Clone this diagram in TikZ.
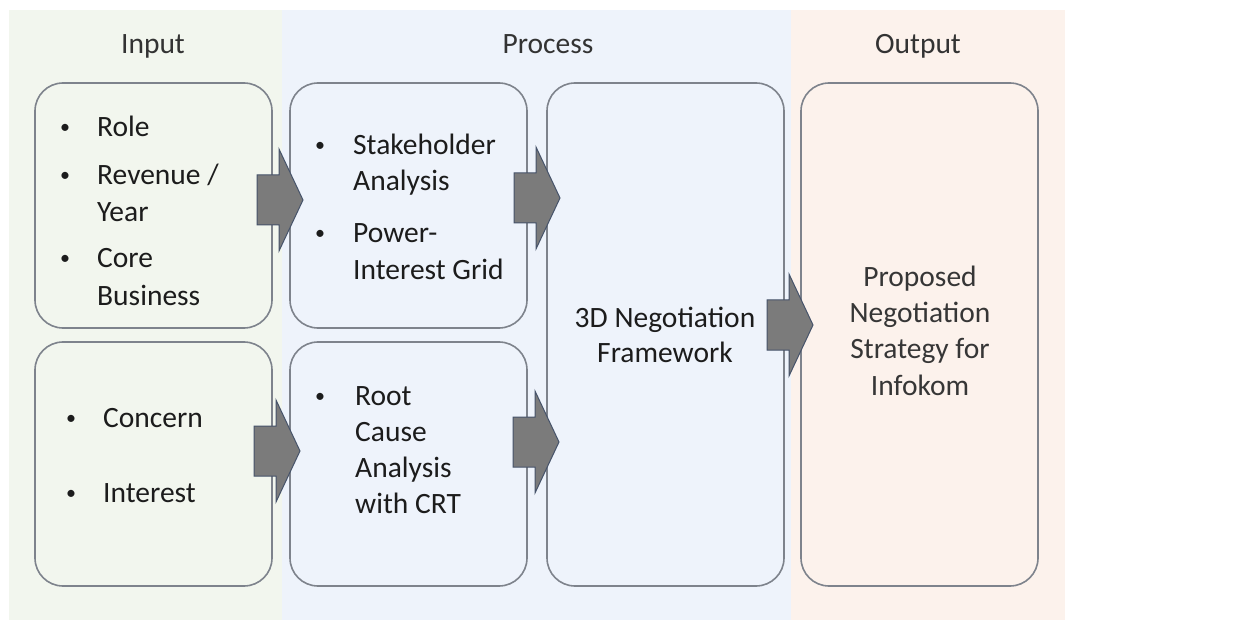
\documentclass[tikz,border=0pt]{standalone}
\usepackage{fontspec}
\setmainfont{Carlito}
\definecolor{pgreen}{HTML}{F2F6EE}
\definecolor{pblue}{HTML}{EEF3FB}
\definecolor{porange}{HTML}{FCF2EC}
\definecolor{boxline}{HTML}{7E838C}
\definecolor{txt}{HTML}{1C1C1C}
\definecolor{txtout}{HTML}{363636}
\definecolor{arrfill}{HTML}{7B7B7B}
\definecolor{arrline}{HTML}{46536A}
\tikzset{
  panel/.style={draw=none},
  stagebox/.style={draw=boxline, line width=1.6pt, rounded corners=28pt},
  lbl/.style={inner sep=0pt, anchor=base west, text=txt, font=\fontsize{29.5}{37}\selectfont},
  bul/.style={inner sep=0pt, anchor=base, text=txt, font=\fontsize{20}{24}\selectfont},
  ctr/.style={inner sep=0pt, anchor=base, text=txt, font=\fontsize{29.5}{37}\selectfont},
  blockarrow/.style={fill=arrfill, draw=arrline, line width=1pt, line join=miter}
}
\newcommand{\barrow}[2]{%
  \path[blockarrow] (#1-46,#2-25) -- (#1-24,#2-25) -- (#1-24,#2-51) -- (#1,#2) -- (#1-24,#2+51) -- (#1-24,#2+25) -- (#1-46,#2+25) -- cycle;}
\begin{document}
\begin{tikzpicture}[x=1pt,y=-1pt]
\useasboundingbox (0,0) rectangle (1237,628);
\fill[white] (0,0) rectangle (1237,628);
% panels
\fill[pgreen] (9,10) rectangle (282,620);
\fill[pblue] (282,10) rectangle (791,620);
\fill[porange] (791,10) rectangle (1065,620);
% headings
\node[ctr, text=txt!90] (hin) at (153,54) {Input};
\node[ctr, text=txt!90] (hproc) at (548,54) {Process};
\node[ctr, text=txt!90] (hout) at (918,54) {Output};
% boxes
\draw[stagebox] (35,83) rectangle (272,328);
\coordinate (in1) at (153,205);
\draw[stagebox] (35,342) rectangle (272,586);
\coordinate (in2) at (153,464);
\draw[stagebox] (290,83) rectangle (527,328);
\coordinate (p1) at (408,205);
\draw[stagebox] (290,342) rectangle (527,586);
\coordinate (p2) at (408,464);
\draw[stagebox] (547,83) rectangle (784,586);
\coordinate (nf) at (665,334);
\draw[stagebox] (801,83) rectangle (1038,586);
\coordinate (outb) at (920,334);
% arrows
\barrow{303}{200}
\barrow{300}{451}
\barrow{560}{198}
\barrow{559}{442}
\barrow{813}{325}
% input box 1
\node[bul] (b1) at (65,134) {•};
\node[lbl] (t1) at (97,137) {Role};
\node[bul] (b2) at (65,182) {•};
\node[lbl] (t2) at (97,185) {Revenue /};
\node[lbl] (t3) at (97,222) {Year};
\node[bul] (b3) at (65,265) {•};
\node[lbl] (t4) at (97,268) {Core};
\node[lbl] (t5) at (97,306) {Business};
% input box 2
\node[bul] (b4) at (71,424) {•};
\node[lbl] (t6) at (103,427) {Concern};
\node[bul] (b5) at (71,499) {•};
\node[lbl] (t7) at (103,502) {Interest};
% process box 1
\node[bul] (b6) at (320,152) {•};
\node[lbl] (t8) at (353,155) {Stakeholder};
\node[lbl] (t9) at (353,191) {Analysis};
\node[bul] (b7) at (320,240) {•};
\node[lbl] (t10) at (353,243) {Power-};
\node[lbl] (t11) at (353,280) {Interest Grid};
% process box 2
\node[bul] (b8) at (320,402) {•};
\node[lbl] (t12) at (355,405) {Root};
\node[lbl] (t13) at (355,441) {Cause};
\node[lbl] (t14) at (355,477) {Analysis};
\node[lbl] (t15) at (355,513) {with CRT};
% 3D
\node[ctr] (t16) at (665,327) {3D Negotiation};
\node[ctr] (t17) at (665,362) {Framework};
% output
\node[ctr, text=txtout] (t18) at (920,287) {Proposed};
\node[ctr, text=txtout] (t19) at (920,323) {Negotiation};
\node[ctr, text=txtout] (t20) at (920,359) {Strategy for};
\node[ctr, text=txtout] (t21) at (920,395) {Infokom};
\end{tikzpicture}
\end{document}
